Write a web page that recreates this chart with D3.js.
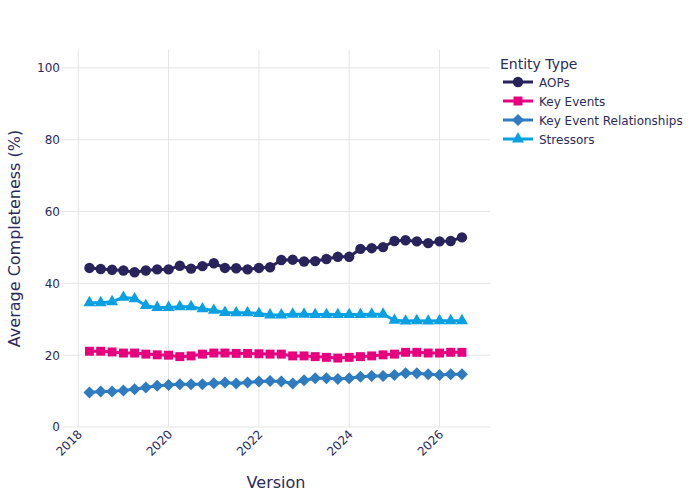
<!DOCTYPE html>
<html>
<head>
<meta charset="utf-8">
<script src="https://cdn.jsdelivr.net/npm/d3@7"></script>
<style>
  body { margin: 0; background: #fff; }
  svg { font-family: "DejaVu Sans", sans-serif; }
</style>
</head>
<body>
<svg id="chart" width="700" height="500"></svg>
<script>
// quarterly releases
var versions = ["2018-04-01", "2018-07-01", "2018-10-01", "2019-01-01", "2019-04-01", "2019-07-01",
  "2019-10-01", "2020-01-01", "2020-04-01", "2020-07-01", "2020-10-01", "2021-01-01",
  "2021-04-01", "2021-07-01", "2021-10-01", "2022-01-01", "2022-04-01", "2022-07-01",
  "2022-10-01", "2023-01-01", "2023-04-01", "2023-07-01", "2023-10-01", "2024-01-01",
  "2024-04-01", "2024-07-01", "2024-10-01", "2025-01-01", "2025-04-01", "2025-07-01",
  "2025-10-01", "2026-01-01", "2026-04-01", "2026-07-01"];

var aops = [44.3, 44.0, 43.8, 43.6, 43.1, 43.6, 43.9, 43.9, 44.9, 44.1, 44.8, 45.6,
  44.3, 44.2, 43.9, 44.3, 44.5, 46.5, 46.6, 46.1, 46.2, 46.8, 47.4, 47.4,
  49.6, 49.8, 50.1, 51.8, 52.0, 51.7, 51.2, 51.7, 51.8, 52.8];
var keyEvents = [21.1, 21.1, 20.9, 20.6, 20.6, 20.3, 20.1, 20.0, 19.6, 19.8, 20.3, 20.6,
  20.6, 20.5, 20.5, 20.4, 20.3, 20.3, 19.8, 19.8, 19.6, 19.4, 19.2, 19.4,
  19.6, 19.8, 20.1, 20.3, 20.8, 20.8, 20.6, 20.6, 20.8, 20.8];
var kers = [9.6, 9.9, 9.9, 10.2, 10.5, 11.0, 11.5, 11.7, 11.9, 11.9, 11.9, 12.2,
  12.4, 12.1, 12.4, 12.7, 12.8, 12.7, 12.1, 13.0, 13.6, 13.6, 13.4, 13.6,
  14.0, 14.2, 14.2, 14.5, 15.0, 15.0, 14.7, 14.5, 14.7, 14.7];
var stressors = [34.6, 34.6, 34.9, 36.1, 35.7, 33.8, 33.3, 33.3, 33.5, 33.5, 32.9, 32.5,
  31.9, 31.8, 31.8, 31.6, 31.2, 31.2, 31.4, 31.4, 31.3, 31.3, 31.3, 31.3,
  31.3, 31.4, 31.4, 29.7, 29.5, 29.6, 29.5, 29.6, 29.6, 29.6];

var entityNames = ["AOPs", "Key Events", "Key Event Relationships", "Stressors"];
var entityValues = [aops, keyEvents, kers, stressors];
var yTicks = [0, 20, 40, 60, 80, 100];
var xTickYears = [2018, 2020, 2022, 2024, 2026];

var colors = ["#29235c", "#e6007e", "#2f7bbf", "#0aa0e2"];
var textColor = "#2a2a5c";
var gridColor = "#e5e5e5";

var margin = { top: 50, right: 210, bottom: 73, left: 62 },
  width = 700 - margin.left - margin.right,
  height = 500 - margin.top - margin.bottom;

var parse = d3.timeParse("%Y-%m-%d");
var dates = versions.map(parse);

var x = d3.scaleTime()
  .domain([new Date(2017, 7, 22), new Date(2027, 1, 13)])
  .range([0, width]);
var y = d3.scaleLinear().domain([0, 105]).range([height, 0]);

var svg = d3.select("#chart")
  .append("g")
  .attr("transform", "translate(" + margin.left + "," + margin.top + ")");

// grid
svg.selectAll(".ygrid")
  .data(yTicks)
  .enter()
  .append("line")
  .attr("x1", 0).attr("x2", width)
  .attr("y1", d => y(d)).attr("y2", d => y(d))
  .style("stroke", gridColor)
  .style("stroke-width", 1);

var xTicks = xTickYears.map(d => new Date(d, 0, 1));
svg.selectAll(".xgrid")
  .data(xTicks)
  .enter()
  .append("line")
  .attr("x1", d => x(d)).attr("x2", d => x(d))
  .attr("y1", 0).attr("y2", height)
  .style("stroke", gridColor)
  .style("stroke-width", 1);

// axes
var yAxis = svg.append("g")
  .call(d3.axisLeft(y).tickValues(yTicks).tickSize(0).tickPadding(2));
yAxis.select(".domain").remove();
yAxis.selectAll("text")
  .style("font-size", "12px")
  .style("fill", textColor)
  .style("font-family", "DejaVu Sans, sans-serif");

var xAxis = svg.append("g")
  .attr("transform", "translate(0," + height + ")")
  .call(d3.axisBottom(x).tickValues(xTicks).tickFormat(d3.timeFormat("%Y")).tickSize(0));
xAxis.select(".domain").remove();
xAxis.selectAll("text")
  .style("font-size", "12px")
  .style("fill", textColor)
  .style("font-family", "DejaVu Sans, sans-serif")
  .attr("text-anchor", "end")
  .attr("dy", null)
  .attr("y", 0)
  .attr("transform", "translate(4,8) rotate(-45)");

// axis titles
svg.append("text")
  .attr("transform", "translate(" + (-42) + "," + (height / 2) + ") rotate(-90)")
  .attr("text-anchor", "middle")
  .style("font-size", "16px")
  .style("fill", textColor)
  .text("Average Completeness (%)");

svg.append("text")
  .attr("x", width / 2)
  .attr("y", height + 61)
  .attr("text-anchor", "middle")
  .style("font-size", "16px")
  .style("fill", textColor)
  .text("Version");

// series
var symbols = [d3.symbolCircle, d3.symbolSquare, d3.symbolSquare, d3.symbolTriangle];
var symbolSizes = [85, 80, 72, 62];
var symbolRotate = [0, 0, 45, 0];

var line = d3.line()
  .x((d, i) => x(dates[i]))
  .y(d => y(d));

entityValues.forEach(function (vals, k) {
  svg.append("path")
    .datum(vals)
    .attr("d", line)
    .style("fill", "none")
    .style("stroke", colors[k])
    .style("stroke-width", 3);

  svg.selectAll(".pt" + k)
    .data(vals)
    .enter()
    .append("path")
    .attr("class", "pt" + k)
    .attr("d", d3.symbol().type(symbols[k]).size(symbolSizes[k]))
    .attr("transform", (d, i) => "translate(" + x(dates[i]) + "," + y(d) + ") rotate(" + symbolRotate[k] + ")")
    .style("fill", colors[k]);
});

// legend
var legend = d3.select("#chart").append("g")
  .attr("transform", "translate(500,0)");

legend.append("text")
  .attr("x", 0)
  .attr("y", 69)
  .style("font-size", "14px")
  .style("fill", textColor)
  .text("Entity Type");

var items = legend.selectAll(".legendItem")
  .data(entityNames)
  .enter()
  .append("g")
  .attr("transform", (d, i) => "translate(0," + (82 + i * 19) + ")");

items.append("line")
  .attr("x1", 3).attr("x2", 33)
  .style("stroke", (d, i) => colors[i])
  .style("stroke-width", 3);

items.append("path")
  .attr("d", (d, i) => d3.symbol().type(symbols[i]).size(symbolSizes[i])())
  .attr("transform", (d, i) => "translate(18,0) rotate(" + symbolRotate[i] + ")")
  .style("fill", (d, i) => colors[i]);

items.append("text")
  .attr("x", 39)
  .attr("y", 4.5)
  .style("font-size", "12px")
  .style("fill", textColor)
  .text(d => d);
</script>
</body>
</html>
